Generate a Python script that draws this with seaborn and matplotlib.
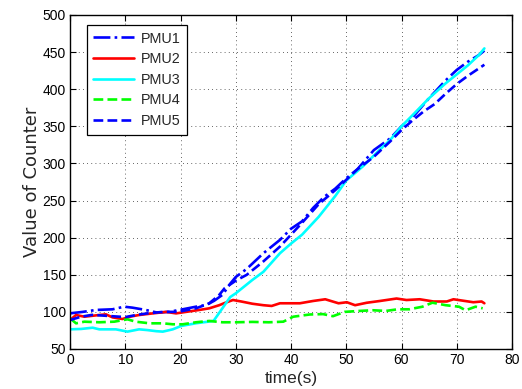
import numpy as np
import pandas as pd
import matplotlib
matplotlib.use("Agg")
import matplotlib.pyplot as plt
import seaborn as sns

# ---- data ----
t_pmu1 = [0, 2.3, 4.7, 7.7, 9.8, 11.3, 13.7, 15.8, 17.9, 20.4, 22.8, 24.6, 26.1, 27.6, 29, 30, 32, 35, 38, 40, 42, 44, 46, 48, 50, 52, 55, 58, 60, 62, 65, 68, 70, 72, 74, 75]
v_pmu1 = [98, 100, 102.6, 103.5, 107, 105.7, 102.6, 99, 100, 103.5, 107, 109, 115, 123, 138, 147, 158, 179, 197, 212, 222, 240, 255, 266, 280, 292, 318, 334, 350, 362, 388, 412, 426, 437, 446, 452]

t_pmu2 = [0, 1.1, 2.6, 5.3, 6.5, 7.7, 9.5, 10.8, 12.5, 15, 17.4, 19.2, 21, 23.4, 25.2, 27, 28, 29.5, 31, 33, 35, 36.5, 38, 41.6, 44, 46.2, 48.6, 50.1, 51.6, 53.7, 56.1, 59.1, 60.9, 63.3, 65.8, 68.2, 69.4, 71.2, 73, 74.5, 75]
v_pmu2 = [89, 95.8, 93.5, 95.8, 96.7, 92.6, 90.4, 93.5, 95.8, 98, 100, 98, 100, 102.6, 104.8, 109, 112, 116, 114, 111, 109, 108, 111.6, 111.6, 114.7, 117, 111.6, 113, 109, 112.3, 114.7, 118, 116, 117, 114, 114, 117, 115, 113, 114, 111.6]

t_pmu3 = [0, 2, 4.1, 5.3, 8.3, 10.4, 12.5, 14, 15.6, 16.8, 18.6, 20.1, 22.8, 25.2, 26, 27.6, 29, 30, 33, 35, 38, 40, 42, 45, 48, 50, 53, 56, 58, 60, 62, 65, 68, 70, 72, 74, 75]
v_pmu3 = [76.5, 77, 78.7, 76.5, 76.5, 73.4, 76.5, 75.5, 74, 73.4, 76.5, 81, 84.7, 87, 88, 105, 120, 125, 143, 154, 179, 192, 204, 228, 256, 277, 296, 318, 332, 350, 365, 388, 408, 420, 432, 446, 455]

t_pmu4 = [0, 1.1, 2.6, 5.3, 8, 10.4, 11.9, 14.4, 16.8, 18.6, 20.4, 22.8, 25.2, 27.6, 30, 33, 36, 38.6, 40.4, 43.4, 45.8, 47.6, 49.7, 52.4, 54.8, 57.2, 59.3, 61.4, 63.8, 65.6, 68, 70.4, 71.6, 73.4, 74.7]
v_pmu4 = [91.3, 84.6, 86.8, 86, 86.8, 90, 86.8, 84.6, 84.6, 83.3, 83.3, 86, 87.8, 86, 86, 86.5, 86, 86.8, 93.5, 96.5, 97, 94.2, 100, 101.3, 102.2, 101.3, 103.5, 103.5, 107, 112.4, 109, 107, 102.2, 107, 104.8]

t_pmu5 = [0, 2, 4, 6, 8, 10, 12, 14, 16.8, 19.5, 22.8, 25.2, 27, 28, 30, 32, 35, 38, 40, 42, 45, 48, 50, 52, 55, 58, 60, 62, 64, 66, 68, 70, 72, 74, 75]
v_pmu5 = [89, 93.5, 96, 95, 94, 93, 95.8, 98, 100, 100, 104.8, 111.5, 122.8, 132, 142, 150, 168, 188, 204, 220, 245, 264, 278, 292, 309, 330, 345, 358, 370, 380, 394, 407, 418, 428, 433]

names = ["PMU1", "PMU2", "PMU3", "PMU4", "PMU5"]
times = [t_pmu1, t_pmu2, t_pmu3, t_pmu4, t_pmu5]
values = [v_pmu1, v_pmu2, v_pmu3, v_pmu4, v_pmu5]

x_ticks = [0, 10, 20, 30, 40, 50, 60, 70, 80]
y_ticks = [50, 100, 150, 200, 250, 300, 350, 400, 450, 500]

colors = {"PMU1": "#0000ff", "PMU2": "#ff0000", "PMU3": "#00ffff", "PMU4": "#00ff00", "PMU5": "#0000ff"}
styles = {"PMU1": "-.", "PMU2": "-", "PMU3": "-", "PMU4": "--", "PMU5": "--"}

sns.set_theme(style="white")
plt.rcParams["font.family"] = ["Liberation Sans", "DejaVu Sans"]

fig = plt.figure(figsize=(5.22, 3.89), dpi=100)
ax = fig.add_axes([70 / 522, 40 / 389, 442 / 522, 334 / 389])

for name, tt, vv in zip(names, times, values):
    df = pd.DataFrame({"t": tt, "v": vv})
    sns.lineplot(data=df, x="t", y="v", ax=ax, color=colors[name], linestyle=styles[name],
                 linewidth=1.9, label=name, estimator=None, sort=False)

ax.set_xlim(0, 80)
ax.set_ylim(50, 500)
ax.set_xticks(x_ticks)
ax.set_yticks(y_ticks)
ax.set_xlabel("time(s)", fontsize=12.5, labelpad=2.5)
ax.set_ylabel("Value of Counter", fontsize=13, labelpad=1, family=["DejaVu Sans"])
ax.tick_params(direction="in", length=4, width=0.8, labelsize=10, top=True, right=True,
               bottom=True, left=True, colors="black", pad=3)
ax.grid(True, linestyle=(0, (1, 4)), color="black", linewidth=0.6, alpha=0.8)
for s in ax.spines.values():
    s.set_visible(True)
    s.set_color("black")
    s.set_linewidth(1.0)

leg = ax.legend(loc="upper left", bbox_to_anchor=(0.038, 0.970), borderaxespad=0,
                frameon=True, fancybox=False, edgecolor="black", fontsize=10.4,
                handlelength=2.8, labelspacing=0.46, borderpad=0.45, handletextpad=0.5,
                framealpha=1)
leg.get_frame().set_linewidth(0.9)

fig.savefig("out.png", dpi=100)
